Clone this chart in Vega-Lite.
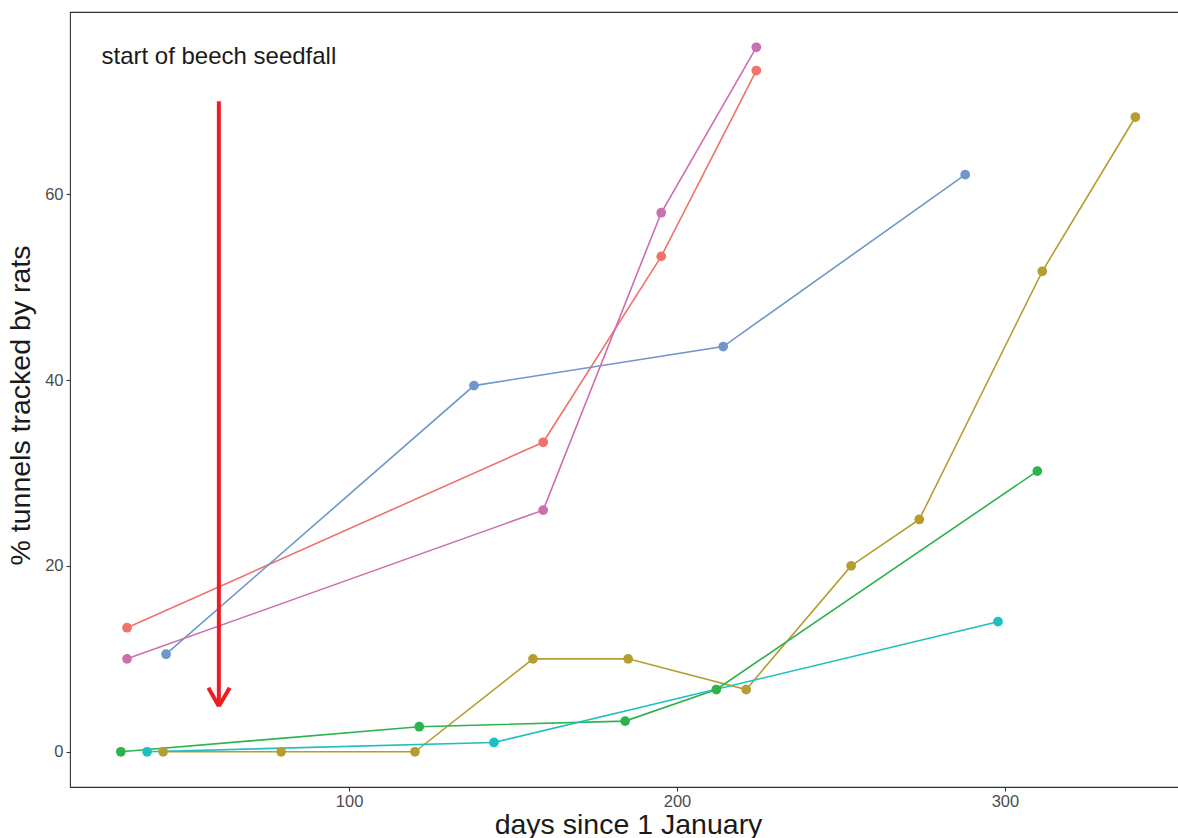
{
  "$schema": "https://vega.github.io/schema/vega-lite/v6.json",
  "width": 1110,
  "height": 775,
  "autosize": {"type": "none"},
  "padding": {"left": 70, "top": 12, "right": 0, "bottom": 51},
  "background": "white",
  "config": {
    "font": "Liberation Sans",
    "view": {"stroke": "#333333", "strokeWidth": 1.1},
    "axis": {
      "grid": false,
      "domain": false,
      "tickColor": "#333333",
      "tickSize": 4,
      "tickWidth": 1.1,
      "labelColor": "#4D4D4D",
      "labelFont": "Liberation Sans",
      "labelFontSize": 16.5,
      "titleFont": "Liberation Sans",
      "titleFontSize": 28.5,
      "titleFontWeight": "normal",
      "titleColor": "#1A1A1A"
    }
  },
  "datasets": {
    "series": [
      {"site": "A", "day": 32.3, "pct": 13.35},
      {"site": "A", "day": 159.2, "pct": 33.3},
      {"site": "A", "day": 195.2, "pct": 53.3},
      {"site": "A", "day": 224.2, "pct": 73.3},
      {"site": "B", "day": 43.3, "pct": 0},
      {"site": "B", "day": 79.3, "pct": 0},
      {"site": "B", "day": 120.1, "pct": 0},
      {"site": "B", "day": 156.1, "pct": 10.0},
      {"site": "B", "day": 185.1, "pct": 10.0},
      {"site": "B", "day": 221.1, "pct": 6.7},
      {"site": "B", "day": 253.1, "pct": 20.0},
      {"site": "B", "day": 273.9, "pct": 25.0},
      {"site": "B", "day": 311.4, "pct": 51.7},
      {"site": "B", "day": 339.8, "pct": 68.3},
      {"site": "C", "day": 30.4, "pct": 0},
      {"site": "C", "day": 121.4, "pct": 2.7},
      {"site": "C", "day": 184.2, "pct": 3.3},
      {"site": "C", "day": 212.0, "pct": 6.7},
      {"site": "C", "day": 309.9, "pct": 30.2},
      {"site": "D", "day": 38.4, "pct": 0},
      {"site": "D", "day": 144.2, "pct": 1.0},
      {"site": "D", "day": 297.9, "pct": 14.0},
      {"site": "E", "day": 44.2, "pct": 10.5},
      {"site": "E", "day": 138.1, "pct": 39.4},
      {"site": "E", "day": 214.1, "pct": 43.6},
      {"site": "E", "day": 287.9, "pct": 62.1},
      {"site": "F", "day": 32.3, "pct": 10.0},
      {"site": "F", "day": 159.2, "pct": 26.0},
      {"site": "F", "day": 195.2, "pct": 58.0},
      {"site": "F", "day": 224.2, "pct": 75.8}
    ],
    "arrow": [
      {"x": 60.3, "y": 70.0, "x2": 60.3, "y2": 4.9},
      {"x": 57.1, "y": 6.9, "x2": 60.3, "y2": 4.9},
      {"x": 63.6, "y": 6.9, "x2": 60.3, "y2": 4.9}
    ],
    "note": [
      {"x": 60.3, "y": 74.8, "label": "start of beech seedfall"}
    ]
  },
  "layer": [
    {
      "data": {"name": "series"},
      "mark": {"type": "line", "strokeWidth": 1.6, "clip": true},
      "encoding": {
        "x": {
          "field": "day", "type": "quantitative",
          "scale": {"domain": [14.9, 353.4], "nice": false, "zero": false},
          "axis": {"values": [100, 200, 300], "title": "days since 1 January", "labelPadding": 2, "titleX": 558, "titleY": 46, "titleBaseline": "alphabetic", "titleAlign": "center", "titleAnchor": null}
        },
        "y": {
          "field": "pct", "type": "quantitative",
          "scale": {"domain": [-3.79, 79.6], "nice": false, "zero": false},
          "axis": {"values": [0, 20, 40, 60], "title": "% tunnels tracked by rats", "labelPadding": 3, "titleX": -41, "titleY": 393, "titleBaseline": "alphabetic", "titleAngle": -90, "titleAlign": "center"}
        },
        "color": {
          "field": "site", "type": "nominal",
          "scale": {"domain": ["A", "B", "C", "D", "E", "F"], "range": ["#F0726A", "#B59D30", "#2CB34A", "#1DBFC1", "#6F96CD", "#CB6FB0"]},
          "legend": null
        },
        "order": {"field": "day", "type": "quantitative"}
      }
    },
    {
      "data": {"name": "series"},
      "mark": {"type": "circle", "size": 95, "opacity": 1},
      "encoding": {
        "x": {"field": "day", "type": "quantitative"},
        "y": {"field": "pct", "type": "quantitative"},
        "color": {"field": "site", "type": "nominal", "legend": null}
      }
    },
    {
      "data": {"name": "arrow"},
      "mark": {"type": "rule", "color": "#EE1C25", "strokeWidth": 4, "strokeCap": "butt"},
      "encoding": {
        "x": {"field": "x", "type": "quantitative"},
        "y": {"field": "y", "type": "quantitative"},
        "x2": {"field": "x2"},
        "y2": {"field": "y2"}
      }
    },
    {
      "data": {"name": "note"},
      "mark": {"type": "text", "fontSize": 24, "font": "Liberation Sans", "color": "#1A1A1A", "align": "center", "baseline": "middle"},
      "encoding": {
        "x": {"field": "x", "type": "quantitative"},
        "y": {"field": "y", "type": "quantitative"},
        "text": {"field": "label"}
      }
    }
  ]
}
